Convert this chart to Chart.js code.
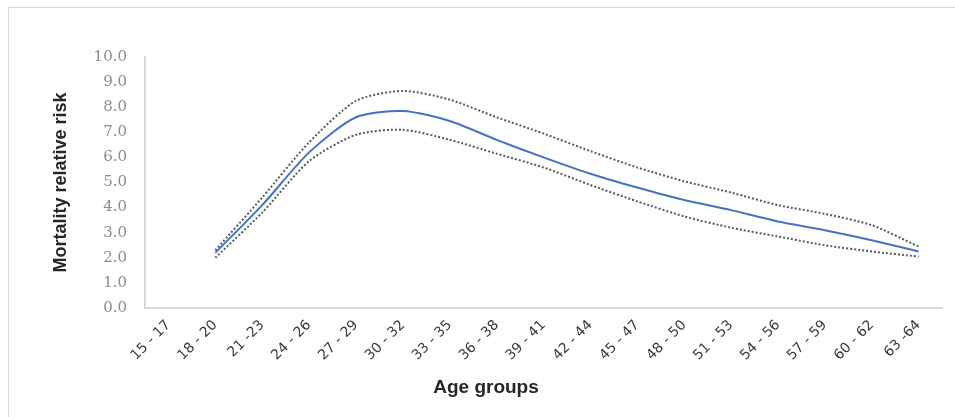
<!DOCTYPE html>
<html>
<head>
<meta charset="utf-8">
<script src="https://cdn.jsdelivr.net/npm/chart.js@4.4.1/dist/chart.umd.min.js"></script>
<style>
  html, body { margin: 0; padding: 0; background: #fff; }
  #wrap { position: relative; width: 955px; height: 417px; overflow: hidden; }
  #frame {
    position: absolute; left: 8px; top: 7px; width: 960px; height: 420px;
    border: 1px solid #d9d9d9; box-sizing: border-box;
  }
  canvas { position: absolute; left: 0; top: 0; }
  #xtitle {
    position: absolute; left: 386px; width: 200px; top: 376px;
    text-align: center; font: bold 19px "Liberation Sans", Arial, sans-serif;
    color: #262626;
  }
</style>
</head>
<body>
<div id="wrap">
  <div id="frame"></div>
  <canvas id="chart" width="955" height="417"></canvas>
  <div id="xtitle">Age groups</div>
</div>
<script>
// age groups on the x axis
const ageGroups = [
  "15 - 17", "18 - 20", "21 -23", "24 - 26", "27 - 29", "30 - 32",
  "33 - 35", "36 - 38", "39 - 41", "42 - 44", "45 - 47", "48 - 50",
  "51 - 53", "54 - 56", "57 - 59", "60 - 62", "63 -64"
];

// relative risk and its confidence bounds
const riskValues = [null, 2.2, 4.1, 6.2, 7.6, 7.85, 7.45, 6.7, 6.0, 5.35, 4.8, 4.3, 3.9, 3.45, 3.1, 2.7, 2.25];
const upperValues = [null, 2.3, 4.4, 6.6, 8.25, 8.65, 8.3, 7.6, 6.95, 6.25, 5.6, 5.05, 4.6, 4.1, 3.75, 3.3, 2.45];
const lowerValues = [null, 2.0, 3.8, 5.85, 6.9, 7.1, 6.7, 6.15, 5.6, 4.9, 4.25, 3.65, 3.2, 2.85, 2.5, 2.25, 2.05];

const yTicks = [0, 1, 2, 3, 4, 5, 6, 7, 8, 9, 10];

function dotted(data) {
  return {
    data: data,
    borderColor: "#595959",
    borderWidth: 2,
    borderDash: [2, 2],
    pointRadius: 0,
    tension: 0.25,
    fill: false,
  };
}

new Chart(document.getElementById("chart"), {
  type: "line",
  data: {
    labels: ageGroups,
    datasets: [
      dotted(upperValues),
      dotted(lowerValues),
      {
        data: riskValues,
        borderColor: "#4472C4",
        borderWidth: 2,
        pointRadius: 0,
        tension: 0.25,
        fill: false,
      },
    ],
  },
  options: {
    responsive: false,
    animation: false,
    layout: { padding: { left: 50, top: 57, right: 13, bottom: 20 } },
    plugins: {
      legend: { display: false },
      tooltip: { enabled: false },
    },
    scales: {
      x: {
        offset: true,
        grid: { display: false, drawTicks: false },
        border: { display: true, color: "#d9d9d9", width: 2 },
        ticks: {
          autoSkip: false,
          maxRotation: 45,
          minRotation: 45,
          padding: 9,
          color: "#3a3a3a",
          font: { family: "DejaVu Sans, sans-serif", size: 14 },
        },
        afterFit: s => { s.height = 89; },
      },
      y: {
        min: 0,
        max: 10,
        grid: { display: false, drawTicks: false },
        border: { display: true, color: "#d9d9d9", width: 2 },
        afterBuildTicks: s => { s.ticks = yTicks.map(v => ({ value: v })); },
        ticks: {
          padding: 18,
          color: "#8c8c8c",
          callback: v => Number(v).toFixed(1),
          font: { family: "DejaVu Serif, serif", size: 15 },
        },
        title: {
          display: true,
          text: "Mortality relative risk",
          color: "#262626",
          padding: { top: 0, bottom: 0 },
          font: { family: "Liberation Sans, Arial, sans-serif", size: 18, weight: "bold" },
        },
        afterFit: s => { s.width = 95; },
      },
    },
  },
});
</script>
</body>
</html>
